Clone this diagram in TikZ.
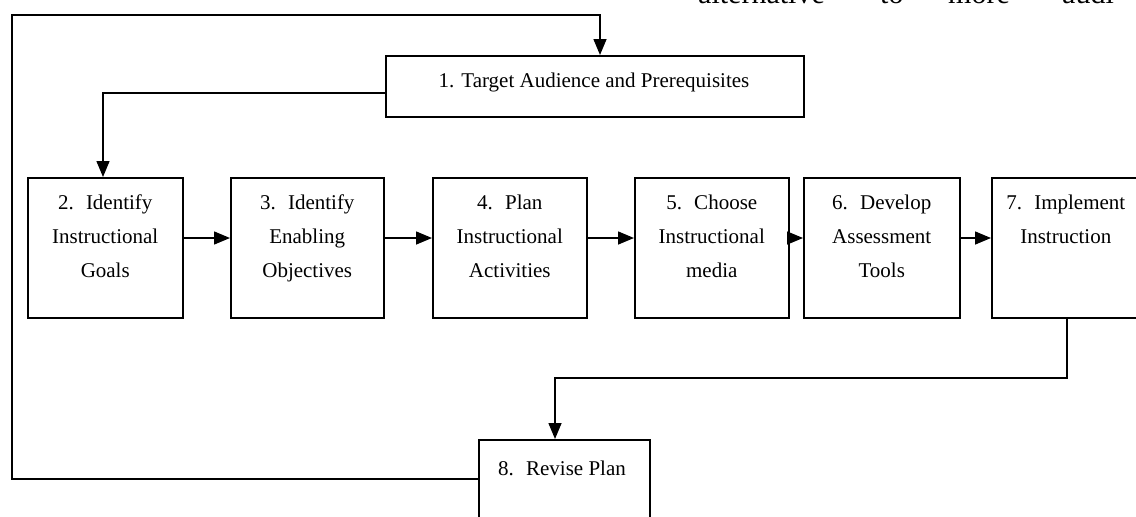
\documentclass[tikz,border=0pt]{standalone}
\usepackage{fontspec}
\setmainfont{Liberation Serif}
\usetikzlibrary{arrows.meta}
\begin{document}
\begin{tikzpicture}[x=1pt,y=-1pt,
  box/.style={draw,line width=1.5pt,inner sep=0pt,anchor=north west},
  boxtext/.style={anchor=north,inner sep=0pt,align=center,font=\fontsize{21}{34}\selectfont,yshift=-8.2pt},
  onetext/.style={anchor=base,inner sep=0pt,font=\fontsize{21}{34}\selectfont},
  conn/.style={line width=1.5pt},
  arr/.style={conn,-{Triangle[length=16pt,width=13pt]}},
  bodytext/.style={anchor=base west,inner sep=0pt,font=\fontsize{30}{36}\selectfont}]
\useasboundingbox (0,0) rectangle (1136,517);
\clip (0,0) rectangle (1136,517);
\fill[white] (0,0) rectangle (1136,517);

% cropped body text at the top
\node[bodytext] (w1) at (698,3) {alternative};
\node[bodytext] (w2) at (880,3) {to};
\node[bodytext] (w3) at (948,3) {more};
\node[bodytext] (w4) at (1062,3) {audi};

% boxes
\node[box,minimum width=418pt,minimum height=61pt] (b1) at (385,55) {};
\node[box,minimum width=155pt,minimum height=140pt] (b2) at (27,177) {};
\node[box,minimum width=153pt,minimum height=140pt] (b3) at (230,177) {};
\node[box,minimum width=154pt,minimum height=140pt] (b4) at (432,177) {};
\node[box,minimum width=154pt,minimum height=140pt] (b5) at (634,177) {};
\node[box,minimum width=156pt,minimum height=140pt] (b6) at (803,177) {};
\node[box,minimum width=148pt,minimum height=140pt] (b7) at (991,177) {};
\node[box,minimum width=171pt,minimum height=120pt] (b8) at (478,439) {};

% texts
\node[onetext] (t1) at (594,87) {1. Target Audience and Prerequisites};
\node[boxtext] (t2) at (b2.north) {\strut 2.~ Identify\\Instructional\\Goals};
\node[boxtext] (t3) at (b3.north) {\strut 3.~ Identify\\Enabling\\Objectives};
\node[boxtext] (t4) at (b4.north) {\strut 4.~ Plan\\Instructional\\Activities};
\node[boxtext] (t5) at (b5.north) {\strut 5.~ Choose\\Instructional\\media};
\node[boxtext] (t6) at (b6.north) {\strut 6.~ Develop\\Assessment\\Tools};
\node[boxtext] (t7) at (b7.north) {\strut 7.~ Implement\\Instruction};
\node[onetext] (t8) at (562,475) {8.~ Revise Plan};

% connectors
\draw[arr] (b8.west |- 0,479) -- (12,479) -- (12,15) -- (600,15) -- (b1.north -| 600,0);
\draw[arr] (b1.west |- 0,93) -| (b2.north -| 103,0);
\draw[arr] (b2.east |- 0,238) -- (b3.west |- 0,238);
\draw[arr] (b3.east |- 0,238) -- (b4.west |- 0,238);
\draw[arr] (b4.east |- 0,238) -- (b5.west |- 0,238);
\draw[arr] (b5.east |- 0,238) -- (b6.west |- 0,238);
\draw[arr] (b6.east |- 0,238) -- (b7.west |- 0,238);
\draw[arr] (b7.south -| 1067,0) |- (555,378) -- (b8.north -| 555,0);
\end{tikzpicture}
\end{document}
